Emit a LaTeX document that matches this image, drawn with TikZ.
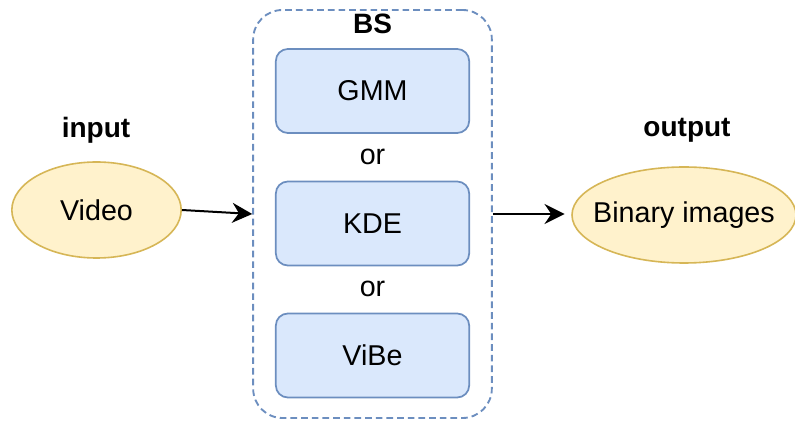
\documentclass[tikz,border=0pt]{standalone}
\usepackage{fontspec}
\setmainfont{Liberation Sans}
\usetikzlibrary{arrows.meta,shapes.geometric}

\definecolor{bsfill}{HTML}{DAE8FC}
\definecolor{bsline}{HTML}{6C8EBF}
\definecolor{iofill}{HTML}{FFF2CC}
\definecolor{ioline}{HTML}{D6B656}

\tikzset{
    algo/.style={draw=bsline, fill=bsfill, line width=1.3pt, rounded corners=9pt,
        minimum width=145pt, minimum height=63pt, font=\fontsize{21.5}{25}\selectfont},
    io/.style={ellipse, draw=ioline, fill=iofill, line width=1.2pt, inner sep=0pt},
    iotext/.style={font=\fontsize{21.5}{25}\selectfont},
    label/.style={font=\fontsize{21}{25}\selectfont\bfseries},
    flow/.style={line width=1.5pt, -{Stealth[length=15pt, width=15pt, inset=5pt]}},
}

\begin{document}
\begin{tikzpicture}[x=0.75pt, y=-0.75pt]

    \useasboundingbox (0,0) rectangle (795,423);

    % bloc BS
    \node[draw=bsline, line width=1.4pt, dash pattern=on 5pt off 3pt,
          rounded corners=22pt, minimum width=179pt, minimum height=306pt] (bs) at (372.5,214) {};
    \node[label] (bslabel) at (372.5,24) {BS};

    % methodes
    \node[algo] (gmm) at (372.5,91) {GMM};
    \node[iotext] (or1) at (372.5,157) {or};
    \node[algo] (kde) at (372.5,223.5) {KDE};
    \node[iotext] (or2) at (372.5,289) {or};
    \node[algo] (vibe) at (372.5,355.5) {ViBe};

    % entree
    \node[label] (inlabel) at (96,130) {input};
    \node[io, minimum width=127pt, minimum height=72pt] (video) at (96.5,210) {};
    \node[iotext] (videotext) at (video.center) {Video};

    % sortie
    \node[label] (outlabel) at (687,130) {output};
    \node[io, minimum width=168pt, minimum height=72pt] (binary) at (684,215) {};
    \node[iotext] (binarytext) at (binary.center) {Binary images};

    % fleches
    \draw[flow] (video.east) -- (bs.west);
    \draw[flow, shorten >=5pt] (bs.east) -- (bs.east -| binary.west);

\end{tikzpicture}
\end{document}
